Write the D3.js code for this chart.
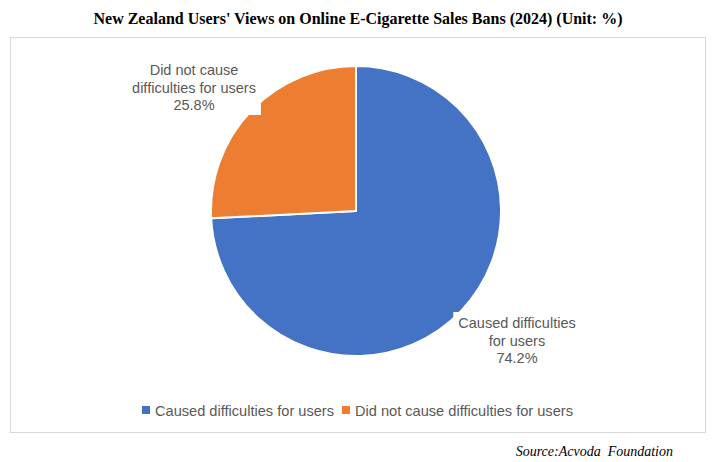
<!DOCTYPE html>
<html><head><meta charset="utf-8">
<script src="https://cdn.jsdelivr.net/npm/d3@7"></script>
<style>body{margin:0;background:#fff}</style>
</head><body>
<svg id="c" width="716" height="462"></svg>
<script>
const categories = ["Caused difficulties for users", "Did not cause difficulties for users"];
const values = [74.2, 25.8];
const labelLines = [["Caused difficulties", "for users", "74.2%"], ["Did not cause", "difficulties for users", "25.8%"]];
const colors = ["#4472C4", "#ED7D31"];
const titleText = "New Zealand Users' Views on Online E-Cigarette Sales Bans (2024) (Unit: %)";
const sourceText = "Source:Acvoda  Foundation";

const svg = d3.select("#c");
svg.append("rect").attr("x", 10.5).attr("y", 37.5).attr("width", 695).attr("height", 395)
  .attr("fill", "#fff").attr("stroke", "#d9d9d9").attr("stroke-width", 1);

svg.append("text").attr("x", 358).attr("y", 24).attr("text-anchor", "middle")
  .attr("font-family", "Liberation Serif, Times New Roman, serif").attr("font-weight", "bold")
  .attr("font-size", 16).attr("fill", "#000").text(titleText);

const cx = 356, cy = 211, R = 145;
const pie = d3.pie().sort(null).value(d => d)(values);
const arc = d3.arc().innerRadius(0).outerRadius(R);
const g = svg.append("g").attr("transform", `translate(${cx},${cy})`);
g.selectAll("path").data(pie).join("path")
  .attr("d", arc).attr("fill", (d, i) => colors[i])
  .attr("stroke", "#fff").attr("stroke-width", 2).attr("stroke-linejoin", "round");

// data labels with white backgrounds
const labelPos = [[517, 328], [194, 75]];
const fontL = "Liberation Sans, Arial, Helvetica, sans-serif";
labelLines.forEach((lines, i) => {
  const lg = svg.append("g");
  const t = lg.append("text").attr("text-anchor", "middle")
    .attr("font-family", fontL).attr("font-size", 14.5).attr("fill", "#595959");
  lines.forEach((s, j) => {
    t.append("tspan").attr("x", labelPos[i][0]).attr("y", labelPos[i][1] + j * 17.5).text(s);
  });
  const bb = t.node().getBBox();
  lg.insert("rect", "text").attr("x", bb.x - 5).attr("y", bb.y - 3)
    .attr("width", bb.width + 10).attr("height", bb.height + 5).attr("fill", "#fff");
});

// legend
const leg = svg.append("g");
let lx = 142;
categories.forEach((c, i) => {
  leg.append("rect").attr("x", lx).attr("y", 406).attr("width", 8).attr("height", 8).attr("fill", colors[i]);
  const t = leg.append("text").attr("x", lx + 13).attr("y", 416)
    .attr("font-family", fontL).attr("font-size", 14.6).attr("fill", "#595959").text(c);
  lx += 13 + t.node().getComputedTextLength() + 8;
});

svg.append("text").attr("x", 673).attr("y", 456).attr("text-anchor", "end")
  .attr("font-family", "Liberation Serif, Times New Roman, serif").attr("font-style", "italic")
  .attr("font-size", 14).attr("fill", "#000").style("white-space", "pre").text(sourceText);
</script>
</body></html>
